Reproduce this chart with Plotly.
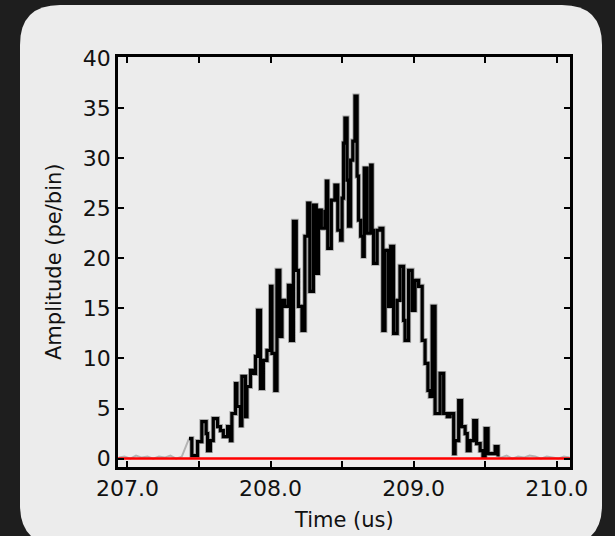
import plotly.graph_objects as go

# Black pulse trace (step-wise)
time_us = [207.43, 207.45, 207.49, 207.52, 207.55, 207.56, 207.58, 207.60, 207.63, 207.65,
           207.67, 207.70, 207.72, 207.73, 207.755, 207.765, 207.79, 207.80, 207.825, 207.835,
           207.86, 207.88, 207.895, 207.91, 207.93, 207.95, 207.975, 208.0, 208.01, 208.03,
           208.045, 208.065, 208.08, 208.10, 208.125, 208.14, 208.16, 208.18, 208.195, 208.22,
           208.24, 208.26, 208.275, 208.30, 208.32, 208.335, 208.355, 208.38, 208.39, 208.40,
           208.425, 208.45, 208.47, 208.49, 208.50, 208.51, 208.52, 208.535, 208.545, 208.56,
           208.575, 208.59, 208.605, 208.615, 208.63, 208.645, 208.655, 208.675, 208.70, 208.71,
           208.72, 208.745, 208.765, 208.785, 208.80, 208.825, 208.84, 208.86, 208.885, 208.905,
           208.93, 208.94, 208.965, 208.99, 209.01, 209.035, 209.06, 209.08, 209.10, 209.115,
           209.13, 209.15, 209.185, 209.21, 209.235, 209.255, 209.28, 209.29, 209.315, 209.335,
           209.36, 209.375, 209.395, 209.42, 209.44, 209.465, 209.485, 209.50, 209.52, 209.57,
           209.59]
amplitude = [2.0, 0.3, 1.7, 3.7, 2.5, 0.8, 1.8, 4.0, 3.2, 2.8,
             2.2, 3.2, 1.8, 4.5, 7.5, 5.2, 3.3, 8.2, 4.2, 7.2,
             8.8, 8.5, 10.2, 14.8, 7.0, 9.8, 10.8, 17.2, 10.5, 6.8,
             18.8, 12.2, 15.8, 15.2, 17.3, 11.8, 23.7, 18.8, 15.2, 12.8,
             22.2, 25.5, 16.7, 25.3, 18.5, 24.8, 23.0, 24.7, 27.7, 21.0,
             25.8, 27.3, 22.8, 21.8, 26.0, 31.5, 34.0, 27.8, 23.2, 29.8,
             31.7, 36.2, 28.2, 23.8, 22.2, 20.2, 29.0, 22.5, 29.3, 22.8,
             19.5, 22.8, 23.0, 12.8, 20.8, 15.2, 21.2, 12.5, 15.8, 19.2,
             13.8, 11.8, 18.8, 14.8, 17.8, 17.2, 11.8, 9.5, 6.8, 6.2,
             15.2, 4.5, 8.5, 4.5, 4.2, 4.5, 0.5, 1.8, 5.8, 3.2,
             2.5, 0.8, 1.8, 3.8, 1.5, 0.8, 0.2, 3.0, 0.5, 1.2,
             0.2]

# Gray trace baseline segments outside the pulse
gray_left_t = [206.94, 206.98, 207.02, 207.06, 207.10, 207.14, 207.18, 207.22, 207.26, 207.30, 207.34, 207.38, 207.43]
gray_left_a = [0.1, 0.2, 0.0, 0.3, 0.1, 0.2, 0.0, 0.2, 0.1, 0.3, 0.0, 0.2, 2.0]
gray_right_t = [209.59, 209.61, 209.65, 209.69, 209.73, 209.77, 209.81, 209.85, 209.89, 209.93, 209.97, 210.01, 210.05, 210.09]
gray_right_a = [0.2, 0.1, 0.3, 0.0, 0.2, 0.1, 0.3, 0.2, 0.0, 0.2, 0.1, 0.0, 0.2, 0.1]

x_tick_vals = [207.0, 207.5, 208.0, 208.5, 209.0, 209.5, 210.0]
x_tick_text = ["207.0", "", "208.0", "", "209.0", "", "210.0"]
y_tick_vals = [0, 5, 10, 15, 20, 25, 30, 35, 40]

x_range = [206.934, 210.093]
y_range = [-0.84, 40.1]

PANEL = "#ececec"
FONT = "DejaVu Sans"

fig = go.Figure()
for gt, ga in ((gray_left_t, gray_left_a), (gray_right_t, gray_right_a)):
    fig.add_trace(go.Scatter(
        x=gt, y=ga, mode="lines", line=dict(color="#b4b4b4", width=2),
        hoverinfo="skip", showlegend=False))
fig.add_trace(go.Scatter(
    x=time_us, y=amplitude,
    mode="lines", line=dict(color="#a8a8a8", width=5, shape="hv"),
    hoverinfo="skip", showlegend=False))
fig.add_trace(go.Scatter(
    x=time_us, y=amplitude,
    mode="lines", line=dict(color="black", width=3.2, shape="hv"),
    showlegend=False))
fig.add_trace(go.Scatter(
    x=x_range, y=[0, 0],
    mode="lines", line=dict(color="#ff0000", width=2.5),
    hoverinfo="skip", showlegend=False))

# rounded light panel (paper coordinates relative to plot area)
L, R, T, B = 118, 570, 57, 467
W, H = R - L, B - T
def px(xp):
    return (xp - L) / W
def py(yp):
    return (B - yp) / H
x0, x1, y0, y1 = px(20), px(602), py(545), py(5)
rx, ry = 40 / W, 40 / H
path = (f"M {x0+rx},{y1} L {x1-rx},{y1} Q {x1},{y1} {x1},{y1-ry} "
        f"L {x1},{y0+ry} Q {x1},{y0} {x1-rx},{y0} L {x0+rx},{y0} "
        f"Q {x0},{y0} {x0},{y0+ry} L {x0},{y1-ry} Q {x0},{y1} {x0+rx},{y1} Z")
fig.add_shape(type="path", path=path, xref="paper", yref="paper",
              fillcolor=PANEL, line=dict(width=0), layer="below")

axis_common = dict(showgrid=False, zeroline=False, showline=True, linecolor="black",
                   linewidth=2.5, mirror="ticks", ticks="inside", ticklen=6,
                   tickwidth=1.5, tickcolor="black",
                   tickfont=dict(family=FONT, size=22, color="#111111"))
fig.update_xaxes(range=x_range, tickvals=x_tick_vals, ticktext=x_tick_text, **axis_common)
fig.update_yaxes(range=y_range, tickvals=y_tick_vals, **axis_common)

fig.add_annotation(text="Amplitude (pe/bin)", xref="paper", yref="paper",
                   x=px(54), y=py(262), textangle=-90, showarrow=False,
                   xanchor="center", yanchor="middle",
                   font=dict(family=FONT, size=21, color="#111111"))
fig.add_annotation(text="Time (us)", xref="paper", yref="paper",
                   x=px(344), y=py(520), showarrow=False,
                   xanchor="center", yanchor="middle",
                   font=dict(family=FONT, size=21, color="#111111"))

fig.update_layout(width=615, height=536,
                  margin=dict(l=L, r=615 - R, t=T, b=536 - B, pad=0),
                  paper_bgcolor="#1e1e1e", plot_bgcolor=PANEL,
                  showlegend=False)

fig.write_html("out.html", config={"displayModeBar": False},
               post_script="document.body.style.margin='0px';document.body.style.background='#1e1e1e';")
